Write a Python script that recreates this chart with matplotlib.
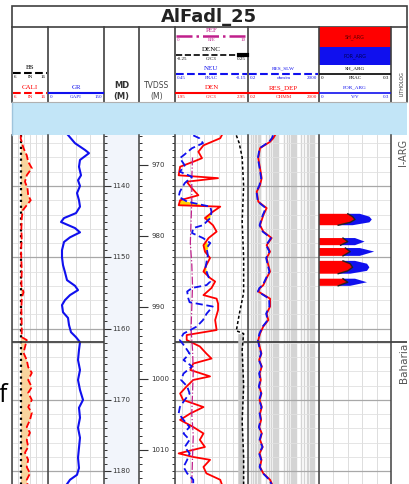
import numpy as np
import matplotlib
matplotlib.use('Agg')
import matplotlib.pyplot as plt
from matplotlib.ticker import MultipleLocator, LogLocator
from matplotlib.patches import Rectangle

nan = np.nan

# ---- log data (MD in metres) ----
bs_md = [1132.85, 1181.8]
bs = [8.5, 8.5]

cali_md = [1132.9, 1133.3, 1134.7, 1135.7, 1136.6, 1137.5, 1138.5, 1139.4, 1140.3, 1141.3,
           1142.0, 1142.7, 1143.4, 1144.5, 1146.0, 1147.6, 1149.0, 1150.4, 1152.0, 1153.9,
           1154.9, 1155.7, 1157.4, 1159.5, 1161.2, 1161.6, 1162.6, 1163.4, 1164.4, 1165.4,
           1166.2, 1167.2, 1168.2, 1169.0, 1170.0, 1171.0, 1171.8, 1172.8, 1173.8, 1174.6,
           1175.6, 1176.6, 1177.4, 1178.4, 1179.4, 1180.3, 1181.2, 1181.8]
cali = [8.5, 8.4, 9.2, 10.1, 10.5, 11.5, 10.1, 9.6, 10.3, 10.5,
        11.2, 10.1, 9.0, 8.7, 8.6, 8.7, 8.5, 8.6, 8.7, 8.6,
        9.2, 8.7, 8.6, 8.7, 8.7, 10.1, 9.6, 9.2, 10.1, 10.5,
        11.5, 10.5, 11.5, 10.5, 11.5, 10.5, 11.5, 11.0, 10.1, 11.0,
        10.1, 10.5, 9.6, 10.5, 10.1, 11.0, 10.1, 10.3]

gr_md = [1132.85, 1134.0, 1134.95, 1135.4, 1136.35, 1137.3, 1138.5, 1139.2, 1140.0, 1141.0,
         1142.0, 1142.9, 1143.8, 1144.5, 1145.05, 1145.9, 1146.5, 1147.2, 1147.85, 1149.0,
         1150.0, 1151.1, 1152.1, 1153.2, 1154.0, 1154.6, 1155.3, 1156.0, 1156.7, 1157.7,
         1158.5, 1159.5, 1160.5, 1161.2, 1161.9, 1163.0, 1164.4, 1165.8, 1167.2, 1168.6,
         1170.0, 1171.1, 1172.5, 1173.9, 1175.3, 1176.7, 1178.1, 1179.55, 1180.5, 1181.2, 1181.8]
gr = [53.6, 72.3, 99.1, 109.8, 85.7, 83.0, 88.4, 80.4, 85.7, 77.7,
      83.0, 85.7, 75.0, 42.9, 34.8, 72.3, 85.7, 58.9, 42.9, 37.5,
      37.5, 40.2, 45.5, 50.9, 72.3, 80.4, 58.9, 45.5, 37.5, 40.2,
      53.6, 56.3, 61.6, 75.0, 85.7, 83.0, 80.4, 85.7, 80.4, 85.7,
      93.8, 83.0, 85.7, 80.4, 85.7, 83.0, 80.4, 83.0, 77.7, 58.9, 50.9]

den_md = [1132.9, 1133.3, 1134.3, 1135.2, 1136.1, 1136.6, 1137.3, 1138.5, 1138.9, 1139.4,
          1140.3, 1141.3, 1142.0, 1142.7, 1142.9, 1143.6, 1144.5, 1145.5, 1146.4, 1147.3,
          1148.3, 1149.2, 1150.1, 1151.1, 1152.0, 1152.9, 1153.4, 1154.3, 1155.3, 1155.8,
          1156.5, 1157.4, 1158.8, 1160.2, 1160.9, 1161.6, 1162.5, 1163.5, 1164.2, 1164.9,
          1165.8, 1166.7, 1167.2, 1168.1, 1169.1, 1170.0, 1171.0, 1171.9, 1172.8, 1173.8,
          1174.7, 1175.6, 1176.6, 1177.5, 1178.0, 1178.4, 1179.4, 1180.3, 1181.2, 1181.8]
den = [2.59, 2.57, 2.34, 2.27, 2.32, 2.20, 2.02, 2.00, 2.54, 2.11,
       2.18, 2.27, 2.02, 2.00, 2.57, 2.47, 2.36, 2.47, 2.52, 2.41,
       2.34, 2.36, 2.43, 2.38, 2.34, 2.43, 2.50, 2.45, 2.34, 2.52,
       2.54, 2.54, 2.50, 2.52, 2.11, 2.11, 2.29, 2.38, 2.45, 2.20,
       2.16, 2.43, 2.20, 2.11, 2.02, 2.06, 2.34, 2.16, 2.02, 2.20,
       2.34, 2.29, 2.36, 2.00, 2.20, 2.43, 2.34, 2.38, 2.57, 2.59]

neu_md = [1132.9, 1133.3, 1134.0, 1134.7, 1135.7, 1136.1, 1137.1, 1138.0, 1138.7, 1139.6,
          1140.8, 1141.5, 1142.2, 1142.9, 1143.6, 1144.5, 1145.5, 1145.9, 1146.6, 1147.3,
          1148.0, 1148.7, 1149.7, 1150.6, 1151.5, 1152.5, 1153.4, 1153.9, 1154.3, 1154.8,
          1155.8, 1156.3, 1156.9, 1157.9, 1158.8, 1159.7, 1160.7, 1161.6, 1162.5, 1163.5,
          1164.4, 1165.3, 1166.3, 1167.2, 1168.1, 1169.1, 1170.0, 1171.0, 1171.9, 1172.8,
          1173.8, 1174.7, 1175.6, 1176.6, 1177.5, 1178.4, 1179.4, 1180.3, 1181.2, 1181.8]
neu = [0.30, 0.25, 0.22, 0.31, 0.38, 0.41, 0.37, 0.41, 0.31, 0.37,
       0.41, 0.42, 0.35, 0.16, 0.15, 0.16, 0.22, 0.30, 0.31, 0.22,
       0.16, 0.19, 0.18, 0.19, 0.20, 0.18, 0.16, 0.19, 0.31, 0.35,
       0.34, 0.33, 0.14, 0.19, 0.22, 0.27, 0.38, 0.41, 0.37, 0.33,
       0.38, 0.31, 0.38, 0.40, 0.35, 0.33, 0.37, 0.41, 0.42, 0.38,
       0.33, 0.38, 0.33, 0.37, 0.33, 0.35, 0.38, 0.35, 0.30, 0.30]

pef_md = [1136.0, 1139.0, 1142.0, 1145.0, 1148.0, 1151.0, 1154.0, 1157.0,
          1160.0, 1163.0, 1166.0, 1169.0, 1172.0, 1175.0, 1178.0, 1181.8]
pef = [2.4, 2.3, 2.3, 2.2, 2.1, 2.3, 2.4, 2.3, 2.2, 2.4, 2.5, 2.4, 2.3, 2.5, 2.4, 2.3]

denc_md = [1132.9, 1134.0, 1136.0, 1140.0, 1145.0, 1150.0, 1155.0, 1158.0,
           1160.3, 1160.7, 1163.0, 1168.0, 1173.0, 1178.0, 1181.8]
denc = [0.17, 0.19, 0.21, 0.22, 0.21, 0.22, 0.22, 0.19, 0.17, 0.22, 0.21, 0.22, 0.21, 0.22, 0.22]

res_md = [1132.9, 1133.3, 1133.8, 1134.7, 1136.1, 1137.5, 1138.9, 1139.9, 1140.8, 1142.2,
          1143.1, 1144.1, 1145.5, 1146.4, 1147.3, 1148.3, 1149.2, 1150.1, 1151.1, 1152.0,
          1152.9, 1153.9, 1154.3, 1154.8, 1155.8, 1156.9, 1157.9, 1158.8, 1159.7, 1160.7,
          1161.6, 1162.5, 1163.5, 1164.4, 1165.3, 1166.3, 1167.2, 1168.1, 1169.1, 1170.0,
          1171.0, 1171.9, 1172.8, 1173.8, 1174.7, 1175.6, 1176.6, 1177.5, 1178.4, 1179.4,
          1180.3, 1181.2, 1181.8]
res_dep = [6.6, 5.3, 3.5, 0.95, 0.76, 0.95, 1.18, 0.95, 0.62, 0.76,
           2.25, 1.46, 0.95, 1.46, 4.3, 2.25, 3.5, 2.25, 2.8, 3.5,
           2.25, 1.46, 0.95, 0.76, 3.5, 3.5, 2.25, 2.8, 1.46, 0.95,
           0.76, 0.9, 1.15, 0.85, 1.2, 0.9, 1.05, 0.85, 1.15, 0.9,
           1.2, 0.95, 1.1, 0.85, 1.2, 0.95, 1.35, 0.9, 1.15, 0.95,
           1.45, 3.5, 4.5]
res_slw = [5.2, 4.4, 3.1, 0.9, 0.72, 0.9, 1.1, 0.88, 0.6, 0.72,
           2.0, 1.35, 0.9, 1.35, 3.9, 2.1, 3.2, 2.1, 2.6, 3.2,
           2.1, 1.35, 0.88, 0.72, 3.1, 3.2, 2.1, 2.6, 1.35, 0.88,
           0.72, 0.85, 1.1, 0.82, 1.15, 0.85, 1.0, 0.82, 1.1, 0.85,
           1.15, 0.9, 1.05, 0.82, 1.15, 0.9, 1.3, 0.85, 1.1, 0.9,
           1.4, 3.2, 4.2]

arg_md = [1143.9, 1144.3, 1144.7, 1145.1, 1145.5, 1146.4,
          1147.3, 1147.8, 1148.3, 1148.5,
          1148.7, 1149.2, 1149.8, 1150.1,
          1150.5, 1150.9, 1151.4, 1151.9, 1152.3, 1152.6,
          1153.0, 1153.5, 1154.0]
sh_arg = [0.12, 0.14, 0.15, 0.13, 0.08, nan,
          0.10, 0.12, 0.09, nan,
          0.11, 0.13, 0.10, nan,
          0.10, 0.13, 0.14, 0.12, 0.08, nan,
          0.10, 0.12, 0.08]
por_arg = [0.17, 0.21, 0.22, 0.21, 0.14, nan,
           0.15, 0.19, 0.15, nan,
           0.17, 0.23, 0.17, nan,
           0.15, 0.20, 0.21, 0.20, 0.13, nan,
           0.15, 0.20, 0.13]

md_labels = [1140, 1150, 1160, 1170, 1180]
tvd_labels = [970, 980, 990, 1000, 1010]
tvd_shift = 167.0
zone_top_baharia = 1161.9

# ---- layout (pixels) ----
W, H = 409, 484
BODY_TOP = 135
TOP_MD, BOT_MD = 1132.85, 1181.79
edges = [12, 48, 104, 139, 175, 248, 319, 391, 407]

fig = plt.figure(figsize=(W / 100, H / 100), dpi=100)


def body_ax(x0, x1, grid=True):
    ax = fig.add_axes([x0 / W, 0, (x1 - x0) / W, (H - BODY_TOP) / H])
    ax.set_ylim(BOT_MD, TOP_MD)
    for s in ax.spines.values():
        s.set_visible(False)
    ax.yaxis.set_major_locator(MultipleLocator(10))
    ax.yaxis.set_minor_locator(MultipleLocator(2))
    ax.tick_params(which='both', length=0, labelbottom=False, labelleft=False)
    if grid:
        ax.yaxis.grid(True, which='minor', color='#e0e0e0', lw=0.6)
        ax.yaxis.grid(True, which='major', color='#a8a8a8', lw=0.9)
        ax.xaxis.grid(True, which='major', color='#d8d8d8', lw=0.6)
        ax.set_axisbelow(True)
    return ax


def twin(ax, lo, hi):
    t = ax.twiny()
    t.set_xlim(lo, hi)
    for s in t.spines.values():
        s.set_visible(False)
    t.tick_params(which='both', length=0, labeltop=False, labelbottom=False)
    return t


# track 1: CALI / BS
ax1 = body_ax(12, 48)
ax1.set_xlim(6, 16)
ax1.set_xticks(np.linspace(6, 16, 7))
cal = np.array(cali)
ax1.fill_betweenx(cali_md, 8.5, cal, where=cal > 8.5, interpolate=True, color='#f8d49e', lw=0)
ax1.plot(bs, bs_md, color='black', ls=':', lw=1.6)
ax1.plot(cali, cali_md, color='red', ls='--', lw=1.3)

# track 2: GR
ax2 = body_ax(48, 104)
ax2.set_xlim(0, 150)
ax2.set_xticks(np.linspace(0, 150, 5))
ax2.plot(gr, gr_md, color='#1010ee', lw=1.5)

# track 3: MD
ax3 = body_ax(104, 139, grid=False)
ax3.set_facecolor('#f2f5fb')
ax3.set_xlim(0, 35)
ax3.hlines(np.arange(1133, 1182), 0, 2.5, color='#333333', lw=0.7)
ax3.hlines(md_labels, 0, 7, color='#333333', lw=0.8)
for d in md_labels:
    ax3.text(8.5, d, str(d), fontsize=5, va='center', ha='left', color='#333333')

# track 4: TVDSS
ax4 = body_ax(139, 175, grid=False)
ax4.set_xlim(0, 36)
tv_ticks = np.arange(966, 1015) + tvd_shift
ax4.hlines(tv_ticks, 0, 3, color='#333333', lw=0.7)
ax4.hlines(tv_ticks, 33, 38, color='#333333', lw=0.7, clip_on=False)
ax4.hlines(np.array(tvd_labels) + tvd_shift, 0, 9, color='#333333', lw=0.8)
for t in tvd_labels:
    ax4.text(12, t + tvd_shift, str(t), fontsize=5, va='center', ha='left', color='#333333')

# track 5: DEN / NEU / PEF / DENC
ax5 = body_ax(175, 248)
ax5.set_xlim(1.95, 2.95)
ax5.set_xticks(np.linspace(1.95, 2.95, 11))
den_a = np.array(den)
den_md_a = np.array(den_md)
neu_on_den = 1.95 + (0.45 - np.interp(den_md_a, neu_md, neu)) / 0.6
gas = (den_a < neu_on_den) & (den_md_a > 1142.5) & (den_md_a < 1156)
ax5.fill_betweenx(den_md_a, den_a, neu_on_den, where=gas, interpolate=True,
                  color='#ffd200', lw=0)
ax5d = twin(ax5, -0.25, 0.25)
denc_a = np.array(denc)
ax5d.fill_betweenx(denc_md, 0.18, denc_a, where=np.array(denc_md) > 1160.5,
                   color='#c8c8c8', lw=0)
ax5d.plot(denc, denc_md, color='black', ls=(0, (2, 1.5)), lw=1.1)
ax5p = twin(ax5, 0, 10)
ax5p.plot(pef, pef_md, color='#c0208c', ls='-.', lw=0.9)
ax5.plot(den, den_md, color='red', lw=1.3)
ax5n = twin(ax5, 0.45, -0.15)
ax5n.plot(neu, neu_md, color='#1010ee', ls=(0, (4, 2)), lw=1.3)

# track 6: resistivity, log scale
ax6 = body_ax(248, 319, grid=False)
ax6.set_xscale('log')
ax6.set_xlim(0.2, 2000)
ax6.xaxis.set_major_locator(LogLocator(base=10, numticks=20))
ax6.xaxis.set_minor_locator(LogLocator(base=10, subs=np.arange(2, 10), numticks=100))
ax6.tick_params(which='both', length=0, labelbottom=False, labelleft=False)
ax6.xaxis.grid(True, which='both', color='#d4d4d4', lw=1.0)
ax6.yaxis.grid(True, which='minor', color='#e0e0e0', lw=0.6)
ax6.yaxis.grid(True, which='major', color='#a8a8a8', lw=0.9)
ax6.set_axisbelow(True)
ax6.plot(res_dep, res_md, color='red', lw=1.3)
ax6.plot(res_slw, res_md, color='#1010ee', ls=(0, (4, 2)), lw=1.3)

# track 7: SH_ARG / POR_ARG
ax7 = body_ax(319, 391)
ax7.set_xlim(0, 0.3)
ax7.set_xticks(np.linspace(0, 0.3, 6))
ax7.fill_betweenx(arg_md, 0, sh_arg, color='red', lw=0)
ax7.fill_betweenx(arg_md, sh_arg, por_arg, color='#1010ee', lw=0)
ax7.plot(sh_arg, arg_md, color='#222222', lw=1.0)

# track 8: zones
ax8 = body_ax(391, 407, grid=False)
ax8.set_xlim(0, 1)

for ax in (ax1, ax2, ax5, ax6, ax7, ax8):
    ax.axhline(zone_top_baharia, color='#333333', lw=1.2)

# ---- overlay: frame, header, labels ----
ov = fig.add_axes([0, 0, 1, 1], zorder=10)
ov.set_xlim(0, W)
ov.set_ylim(H, 0)
ov.axis('off')

line_c = '#404040'
ov.add_patch(Rectangle((12, 6), 395, 21, fill=False, ec=line_c, lw=1.2))
ov.text(209, 16.5, 'AlFadl_25', fontsize=13, fontweight='bold', ha='center',
        va='center', color='#222222')
ov.add_patch(Rectangle((12, 102), 395, 33, fc='#c2e5f7', ec='none'))
for x in edges:
    ov.plot([x, x], [27, 102], color=line_c, lw=1.2)
for x in edges[:-1]:
    ov.plot([x, x], [BODY_TOP, H], color=line_c, lw=1.1)
ov.plot([12, 12], [102, BODY_TOP], color='#9fc4dc', lw=1.0)

serif = 'Liberation Serif'


def curve_head(x0, x1, y, name, color, lo, unit, hi, ls='-', lw=1.5, size=5):
    cx = (x0 + x1) / 2
    ov.text(cx, y - 5.5, name, color=color, fontsize=size, family=serif,
            ha='center', va='center')
    ov.plot([x0 + 1, x1 - 1], [y, y], color=color, ls=ls, lw=lw)
    ov.text(x0 + 2, y + 4, lo, color=color, fontsize=3.6, family=serif, ha='left', va='center')
    ov.text(cx, y + 4, unit, color=color, fontsize=3.6, family=serif, ha='center', va='center')
    ov.text(x1 - 2, y + 4, hi, color=color, fontsize=3.6, family=serif, ha='right', va='center')


curve_head(12, 48, 73, 'BS', 'black', '6', 'IN', '16', ls='--')
curve_head(12, 48, 93, 'CALI', 'red', '6', 'IN', '16', ls='--')
curve_head(48, 104, 93, 'GR', '#1010ee', '0', 'GAPI', '150')
ov.text(121.5, 86, 'MD', fontsize=6, fontweight='bold', ha='center', va='center', color='#333333')
ov.text(121.5, 96, '(M)', fontsize=6, fontweight='bold', ha='center', va='center', color='#333333')
ov.text(157, 86, 'TVDSS', fontsize=5.5, ha='center', va='center', color='#444444')
ov.text(157, 96, '(M)', fontsize=5.5, ha='center', va='center', color='#444444')
curve_head(175, 248, 36, 'PEF', '#c0208c', '0', 'B/E', '10', ls='-.', lw=1.8)
curve_head(175, 248, 55, 'DENC', 'black', '-0.25', 'G/C3', '0.25', ls='--', lw=1.2)
ov.plot([239, 247], [55, 55], color='black', lw=3)
curve_head(175, 248, 74, 'NEU', '#1010ee', '0.45', 'FRAC', '-0.15', ls='--')
curve_head(175, 248, 93, 'DEN', 'red', '1.95', 'G/C3', '2.95')
curve_head(248, 319, 74, 'RES_SLW', '#1010ee', '0.2', 'ohm/m', '2000', ls='--', size=3.8)
curve_head(248, 319, 93, 'RES_DEP', 'red', '0.2', 'OHMM', '2000')
ov.add_patch(Rectangle((319, 27), 72, 20, fc='red', ec='none'))
ov.add_patch(Rectangle((319, 47), 72, 18, fc='#1010ee', ec='none'))
ov.text(355, 37, 'SH_ARG', fontsize=3.5, ha='center', va='center', color='#5a0000')
ov.text(355, 56, 'POR_ARG', fontsize=3.5, ha='center', va='center', color='#000050')
curve_head(319, 391, 74, 'SH_ARG', 'black', '0', 'FRAC', '0.3', lw=1.2, size=3.8)
curve_head(319, 391, 93, 'POR_ARG', '#1010ee', '0', 'V/V', '0.3', lw=1.2, size=3.8)
ov.plot([12, 407], [102, 102], color='#b0b0b0', lw=0.8)
ov.text(402, 84, 'LITHOLOG', fontsize=3.5, rotation=90, ha='center', va='center', color='#333333')

# zone names
ov.text(403, 152, 'I-ARG', fontsize=7, rotation=90, ha='center', va='center', color='#555555')
ov.text(404, 363, 'Baharia', fontsize=7.5, rotation=90, ha='center', va='center', color='#555555')

# stray slide text at the left border
ov.text(-1, 402, 'f', fontsize=18, family='Open Sans', ha='left', va='baseline', color='black')

fig.savefig('out.png', dpi=100)
